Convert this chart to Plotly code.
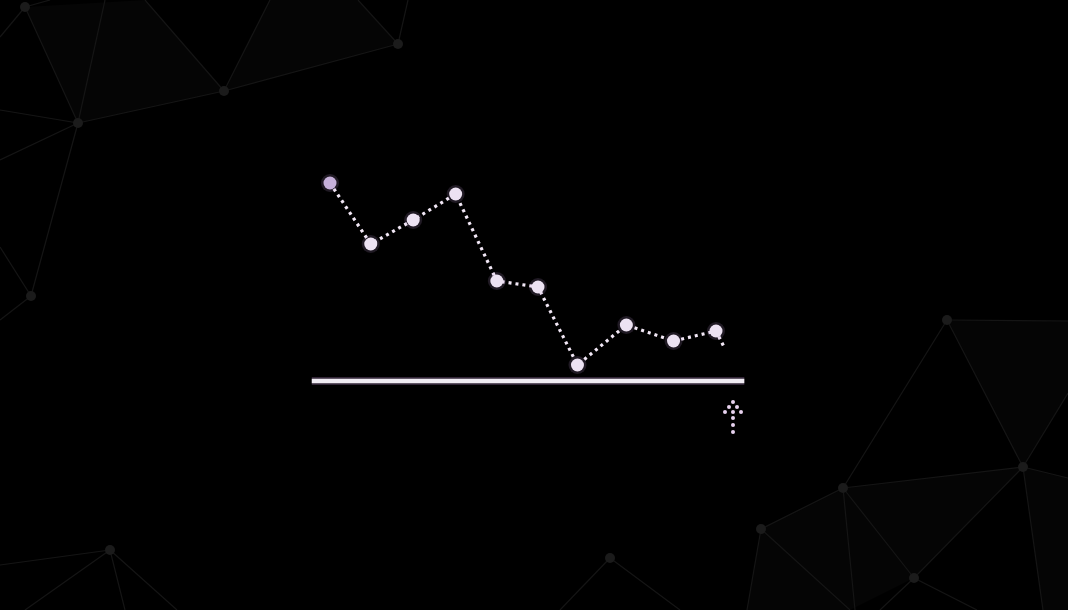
import plotly.graph_objects as go

# ---------------- data ----------------
steps = [1.0, 1.95, 2.94, 3.93, 4.89, 5.85, 6.77, 7.91, 9.01, 10.0]
values = [19.8, 13.7, 16.1, 18.7, 10.0, 9.4, 1.6, 5.6, 4.0, 5.0]
tail_x = 10.2
tail_y = 3.3

# background network (pixel space of the 1068x610 canvas)
node_x = [25, 78, 224, 398, 31, 947, 1023, 843, 761, 914, 610, 110]
node_y = [7, 123, 91, 44, 296, 320, 467, 488, 529, 578, 558, 550]
edges = [
    ((25, 7), (78, 123)), ((25, 7), (0, 37)), ((25, 7), (50, 0)),
    ((78, 123), (0, 110)), ((78, 123), (0, 160)), ((78, 123), (105, 0)),
    ((78, 123), (224, 91)), ((78, 123), (31, 296)),
    ((224, 91), (145, 0)), ((224, 91), (270, 0)), ((224, 91), (398, 44)),
    ((398, 44), (358, 0)), ((398, 44), (408, 0)),
    ((31, 296), (0, 247)), ((31, 296), (0, 320)),
    ((947, 320), (1068, 321)), ((947, 320), (1023, 467)), ((947, 320), (843, 488)),
    ((1023, 467), (1068, 393)), ((1023, 467), (1068, 478)), ((1023, 467), (843, 488)),
    ((1023, 467), (914, 578)), ((1023, 467), (1043, 610)),
    ((843, 488), (761, 529)), ((843, 488), (914, 578)), ((843, 488), (855, 610)),
    ((761, 529), (747, 610)), ((761, 529), (850, 610)),
    ((914, 578), (880, 610)), ((914, 578), (977, 610)),
    ((610, 558), (560, 610)), ((610, 558), (680, 610)),
    ((110, 550), (0, 565)), ((110, 550), (25, 610)), ((110, 550), (125, 610)),
    ((110, 550), (177, 610)),
]
faces = [
    [(25, 7), (78, 123), (224, 91), (145, 0)],
    [(224, 91), (398, 44), (358, 0), (270, 0)],
    [(947, 320), (1068, 321), (1068, 393), (1023, 467)],
    [(843, 488), (1023, 467), (914, 578)],
    [(761, 529), (843, 488), (914, 578), (850, 610), (747, 610)],
    [(1023, 467), (1068, 478), (1068, 610), (1043, 610)],
]

# dotted arrow below the axis end (pixel space)
arrow_x = [733, 729, 737, 725, 733, 741, 733, 733, 733]
arrow_y = [402, 407, 407, 412, 412, 412, 418, 425, 432]

# ---------------- figure ----------------
fig = go.Figure()

for f in faces:
    fx = [p[0] for p in f] + [f[0][0]]
    fy = [p[1] for p in f] + [f[0][1]]
    fig.add_trace(go.Scatter(x=fx, y=fy, mode="lines", fill="toself",
                             fillcolor="rgba(255,255,255,0.018)",
                             line=dict(width=0), hoverinfo="skip", showlegend=False))

ex, ey = [], []
for (a, b) in edges:
    ex += [a[0], b[0], None]
    ey += [a[1], b[1], None]
fig.add_trace(go.Scatter(x=ex, y=ey, mode="lines",
                         line=dict(color="#151515", width=1.2),
                         hoverinfo="skip", showlegend=False))
fig.add_trace(go.Scatter(x=node_x, y=node_y, mode="markers",
                         marker=dict(color="#1b1b1b", size=10),
                         hoverinfo="skip", showlegend=False))

fig.add_trace(go.Scatter(x=arrow_x, y=arrow_y, mode="markers",
                         marker=dict(color="#e8d2ef", size=4),
                         hoverinfo="skip", showlegend=False))

# chart (overlay axes)
line_x = steps + [tail_x]
line_y = values + [tail_y]
fig.add_trace(go.Scatter(x=line_x, y=line_y, mode="lines", xaxis="x2", yaxis="y2",
                         line=dict(color="#f1e7f5", width=3.2, dash="3px,4px"),
                         hoverinfo="skip", showlegend=False))
fig.add_trace(go.Scatter(x=steps, y=values, mode="markers", xaxis="x2", yaxis="y2",
                         marker=dict(color="rgba(200,160,225,0.16)", size=18),
                         hoverinfo="skip", showlegend=False))
marker_colors = ["#c6b0da"] + ["#ece2f2"] * (len(steps) - 1)
fig.add_trace(go.Scatter(x=steps, y=values, mode="markers", xaxis="x2", yaxis="y2",
                         marker=dict(color=marker_colors, size=13, line=dict(width=0)),
                         hoverinfo="skip", showlegend=False))

# baseline with glow
fig.add_shape(type="line", xref="x2", yref="y2", x0=0.575, x1=10.66, y0=0, y1=0,
              line=dict(color="rgba(200,150,220,0.25)", width=8), layer="above")
fig.add_shape(type="line", xref="x2", yref="y2", x0=0.575, x1=10.66, y0=0, y1=0,
              line=dict(color="#f0ecf3", width=4.5), layer="above")

hidden = dict(visible=False, showgrid=False, zeroline=False, fixedrange=True)
fig.update_layout(
    width=1068, height=610,
    margin=dict(l=0, r=0, t=0, b=0),
    paper_bgcolor="#000000", plot_bgcolor="#000000",
    xaxis=dict(range=[0, 1068], **hidden),
    yaxis=dict(range=[610, 0], **hidden),
    xaxis2=dict(range=[-6.694, 18.207], overlaying="x", **hidden),
    yaxis2=dict(range=[-22.9, 38.1], overlaying="y", **hidden),
    showlegend=False,
)

fig.write_html(
    "out.html",
    config={"displayModeBar": False, "staticPlot": True},
    post_script="document.body.style.margin='0';document.body.style.background='#000';",
)
